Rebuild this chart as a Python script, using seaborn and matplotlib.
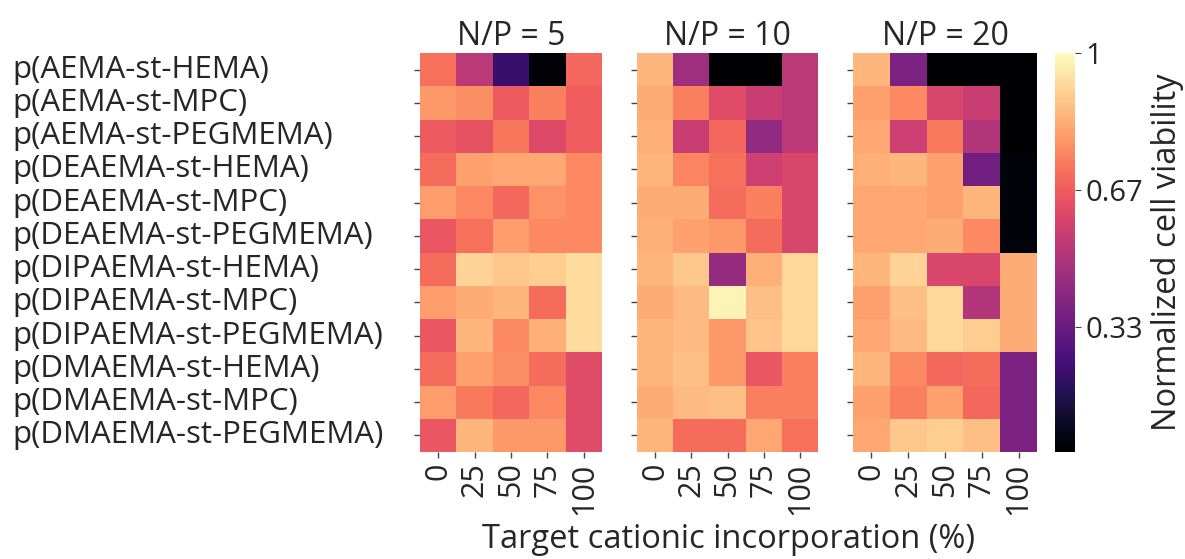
import numpy as np
import pandas as pd
import matplotlib
matplotlib.use("Agg")
import matplotlib.pyplot as plt
import seaborn as sns

polymers = [
    "p(AEMA-st-HEMA)", "p(AEMA-st-MPC)", "p(AEMA-st-PEGMEMA)",
    "p(DEAEMA-st-HEMA)", "p(DEAEMA-st-MPC)", "p(DEAEMA-st-PEGMEMA)",
    "p(DIPAEMA-st-HEMA)", "p(DIPAEMA-st-MPC)", "p(DIPAEMA-st-PEGMEMA)",
    "p(DMAEMA-st-HEMA)", "p(DMAEMA-st-MPC)", "p(DMAEMA-st-PEGMEMA)",
]
incorporation = ["0", "25", "50", "75", "100"]
np_ratios = ["5", "10", "20"]

viability_np5 = [
    [0.71, 0.53, 0.22, 0.04, 0.69],
    [0.79, 0.77, 0.66, 0.74, 0.67],
    [0.66, 0.64, 0.72, 0.61, 0.67],
    [0.70, 0.81, 0.82, 0.82, 0.76],
    [0.80, 0.76, 0.69, 0.78, 0.76],
    [0.65, 0.71, 0.80, 0.76, 0.76],
    [0.70, 0.91, 0.89, 0.90, 0.93],
    [0.80, 0.83, 0.85, 0.70, 0.93],
    [0.65, 0.85, 0.76, 0.84, 0.93],
    [0.70, 0.81, 0.77, 0.70, 0.62],
    [0.80, 0.73, 0.69, 0.76, 0.62],
    [0.65, 0.85, 0.79, 0.79, 0.62],
]
viability_np10 = [
    [0.85, 0.46, 0.03, 0.03, 0.53],
    [0.83, 0.74, 0.62, 0.56, 0.53],
    [0.84, 0.56, 0.69, 0.43, 0.53],
    [0.85, 0.75, 0.71, 0.57, 0.60],
    [0.83, 0.83, 0.70, 0.74, 0.60],
    [0.84, 0.81, 0.79, 0.70, 0.60],
    [0.85, 0.89, 0.44, 0.84, 0.92],
    [0.83, 0.86, 0.98, 0.87, 0.92],
    [0.85, 0.86, 0.79, 0.88, 0.92],
    [0.85, 0.87, 0.79, 0.65, 0.74],
    [0.83, 0.86, 0.87, 0.74, 0.74],
    [0.85, 0.70, 0.70, 0.82, 0.71],
]
viability_np20 = [
    [0.85, 0.38, 0.03, 0.03, 0.03],
    [0.81, 0.76, 0.60, 0.56, 0.03],
    [0.82, 0.57, 0.73, 0.51, 0.03],
    [0.84, 0.85, 0.81, 0.35, 0.05],
    [0.82, 0.82, 0.81, 0.85, 0.05],
    [0.82, 0.82, 0.83, 0.76, 0.05],
    [0.85, 0.91, 0.60, 0.60, 0.83],
    [0.81, 0.87, 0.92, 0.51, 0.83],
    [0.82, 0.86, 0.92, 0.90, 0.83],
    [0.85, 0.76, 0.69, 0.70, 0.38],
    [0.81, 0.74, 0.81, 0.69, 0.38],
    [0.82, 0.89, 0.90, 0.87, 0.38],
]

sns.set_style("ticks")
plt.rcParams["font.family"] = ["Open Sans", "DejaVu Sans"]
text_color = "#262626"
tick_color = "#444444"

fig = plt.figure(figsize=(11.85, 5.59), dpi=100)
W, H = 1185, 559
PT = 100 / 72  # pixels per point


def px_axes(x0, y0, x1, y1):
    return fig.add_axes([x0 / W, 1 - y1 / H, (x1 - x0) / W, (y1 - y0) / H])


ax_boxes = [(420, 53, 602, 452), (637, 53, 818, 452), (853, 53, 1037, 452)]
cbar_ax = px_axes(1055, 53, 1075, 452)

vmin, vmax = 0.03, 1.0
tick_len = 4.5
label_left = 12  # left edge of row labels, in pixels

tables = [viability_np5, viability_np10, viability_np20]
for i, (ratio, vals, box) in enumerate(zip(np_ratios, tables, ax_boxes)):
    ax = px_axes(*box)
    df = pd.DataFrame(vals, index=polymers, columns=incorporation)
    last = i == len(tables) - 1
    sns.heatmap(df, ax=ax, cmap="magma", vmin=vmin, vmax=vmax,
                cbar=last, cbar_ax=cbar_ax if last else None)
    ax.set_title(f"N/P = {ratio}", fontsize=23, color=text_color, pad=6)
    ax.set_xticklabels(incorporation, rotation=90, fontsize=22, color=text_color)
    ax.tick_params(axis="both", length=tick_len, width=1, color=tick_color)
    ax.tick_params(axis="x", pad=3)
    if i == 0:
        ax.set_yticklabels(polymers, rotation=0, fontsize=22.5, color=text_color,
                           ha="left")
        gap_pt = (box[0] - label_left) / PT - tick_len
        ax.tick_params(axis="y", pad=gap_pt)
    else:
        ax.set_yticklabels([])
    ax.set_xlabel("")
    ax.set_ylabel("")

cbar = fig.axes[-1].collections[0].colorbar
cbar.set_ticks([1 / 3, 2 / 3, 1.0])
cbar.set_ticklabels(["0.33", "0.67", "1"])
cbar.ax.tick_params(labelsize=21, labelcolor=text_color, length=tick_len,
                    color=tick_color, pad=3)
cbar.set_label("Normalized cell viability", fontsize=23.5, color=text_color,
               labelpad=6)

fig.text(728 / W, 1 - 540 / H, "Target cationic incorporation (%)",
         ha="center", va="center", fontsize=23.5, color=text_color)

fig.savefig("out.png", dpi=100)
